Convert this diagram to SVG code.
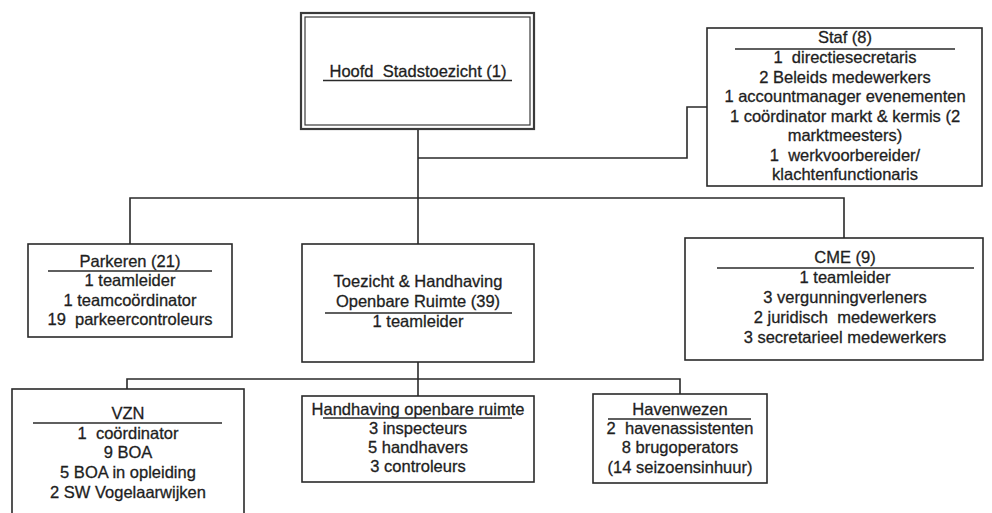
<svg xmlns="http://www.w3.org/2000/svg" width="992" height="513" viewBox="0 0 992 513">
<style>
  .box { fill: #ffffff; stroke: #2a2a2a; stroke-width: 1.6; }
  .ul { stroke: #2a2a2a; stroke-width: 1.5; }
  .conn { fill: none; stroke: #2a2a2a; stroke-width: 1.6; }
  text { font-family: "Liberation Sans", Arial, sans-serif; font-size: 16.5px; fill: #1e1e1e; stroke: #1e1e1e; stroke-width: 0.3; text-anchor: middle; white-space: pre; }
</style>
<rect width="992" height="513" fill="#ffffff"/>
<g id="connectors">
  <path class="conn" d="M418,129 V244"/>
  <path class="conn" d="M130,244 V198 H844 V238"/>
  <path class="conn" d="M418,158 H687 V107 H707"/>
  <path class="conn" d="M418,362 V396"/>
  <path class="conn" d="M127,389 V379 H680 V394"/>
</g>
<g id="hoofd">
  <rect x="301" y="13" width="233" height="116" fill="#ffffff" stroke="#3a3a3a" stroke-width="2.2"/>
  <rect x="305" y="17" width="225" height="108" fill="none" stroke="#3a3a3a" stroke-width="1.2"/>
  <text x="418" y="77" xml:space="preserve">Hoofd  Stadstoezicht (1)</text>
  <line class="ul" x1="323" y1="80.5" x2="512" y2="80.5"/>
</g>
<g id="staf">
  <rect class="box" x="707" y="28" width="275" height="158"/>
  <text x="845" y="43">Staf (8)</text>
  <line class="ul" x1="735" y1="49" x2="955" y2="49"/>
  <text x="845" y="63" xml:space="preserve">1  directiesecretaris</text>
  <text x="845" y="83">2 Beleids medewerkers</text>
  <text x="845" y="102">1 accountmanager evenementen</text>
  <text x="845" y="122">1 coördinator markt &amp; kermis (2</text>
  <text x="845" y="141">marktmeesters)</text>
  <text x="845" y="161" xml:space="preserve">1  werkvoorbereider/</text>
  <text x="845" y="180">klachtenfunctionaris</text>
</g>
<g id="parkeren">
  <rect class="box" x="28" y="244" width="204" height="93"/>
  <text x="130" y="267">Parkeren (21)</text>
  <line class="ul" x1="48" y1="271" x2="212" y2="271"/>
  <text x="130" y="286">1 teamleider</text>
  <text x="130" y="306">1 teamcoördinator</text>
  <text x="130" y="325" xml:space="preserve">19  parkeercontroleurs</text>
</g>
<g id="toezicht">
  <rect class="box" x="302" y="244" width="232" height="118"/>
  <text x="418" y="287">Toezicht &amp; Handhaving</text>
  <text x="418" y="307">Openbare Ruimte (39)</text>
  <line class="ul" x1="325" y1="313" x2="512" y2="313"/>
  <text x="418" y="327">1 teamleider</text>
</g>
<g id="cme">
  <rect class="box" x="685" y="238" width="298" height="122"/>
  <text x="845" y="263">CME (9)</text>
  <line class="ul" x1="717" y1="268" x2="974" y2="268"/>
  <text x="845" y="283">1 teamleider</text>
  <text x="845" y="303">3 vergunningverleners</text>
  <text x="845" y="323" xml:space="preserve">2 juridisch  medewerkers</text>
  <text x="845" y="343">3 secretarieel medewerkers</text>
</g>
<g id="vzn">
  <rect class="box" x="12" y="389" width="232" height="135"/>
  <text x="128" y="419">VZN</text>
  <line class="ul" x1="33" y1="423" x2="222" y2="423"/>
  <text x="128" y="439" xml:space="preserve">1  coördinator</text>
  <text x="128" y="458">9 BOA</text>
  <text x="128" y="478">5 BOA in opleiding</text>
  <text x="128" y="498">2 SW Vogelaarwijken</text>
</g>
<g id="handhaving">
  <rect class="box" x="302" y="396" width="232" height="86"/>
  <text x="418" y="415">Handhaving openbare ruimte</text>
  <line class="ul" x1="323" y1="418" x2="512" y2="418"/>
  <text x="418" y="434">3 inspecteurs</text>
  <text x="418" y="453">5 handhavers</text>
  <text x="418" y="472">3 controleurs</text>
</g>
<g id="havenwezen">
  <rect class="box" x="593" y="394" width="174" height="89"/>
  <text x="680" y="415">Havenwezen</text>
  <line class="ul" x1="608" y1="419" x2="751" y2="419"/>
  <text x="680" y="434" xml:space="preserve">2  havenassistenten</text>
  <text x="680" y="453">8 brugoperators</text>
  <text x="680" y="473">(14 seizoensinhuur)</text>
</g>
</svg>
